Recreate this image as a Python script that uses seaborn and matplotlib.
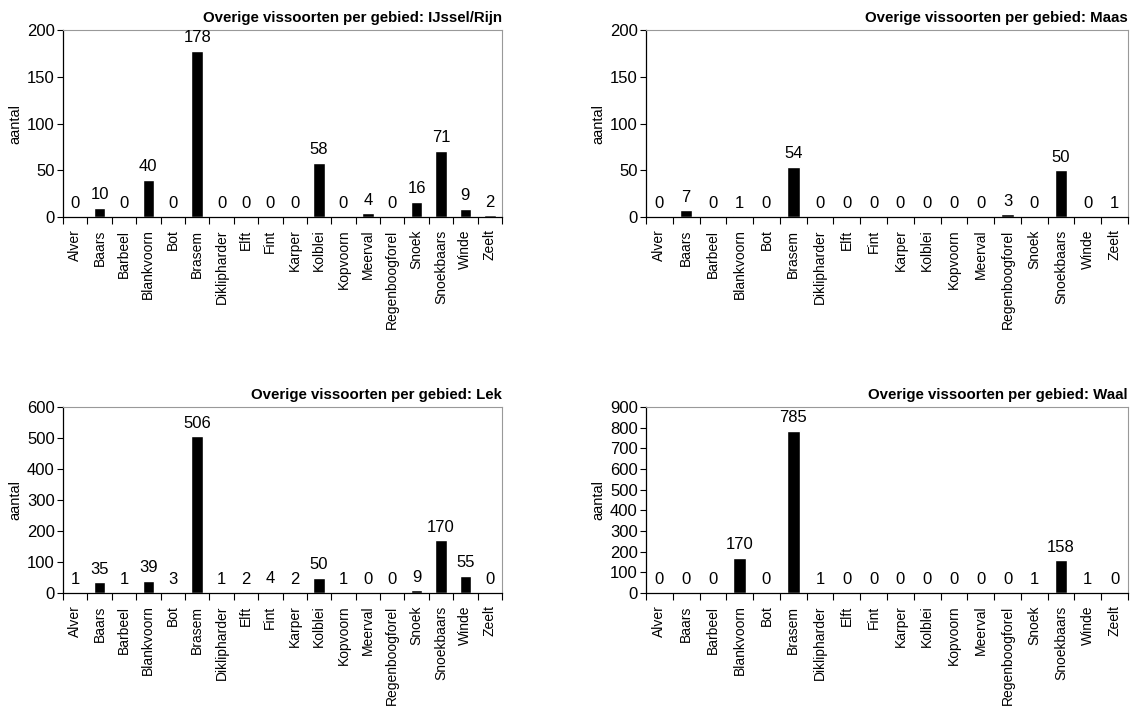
import numpy as np
import pandas as pd
import matplotlib.pyplot as plt
import seaborn as sns

# Overige vissoorten per gebied
soorten = ["Alver", "Baars", "Barbeel", "Blankvoorn", "Bot", "Brasem", "Diklipharder",
           "Elft", "Fint", "Karper", "Kolblei", "Kopvoorn", "Meerval", "Regenboogforel",
           "Snoek", "Snoekbaars", "Winde", "Zeelt"]
ijssel_rijn = [0, 10, 0, 40, 0, 178, 0, 0, 0, 0, 58, 0, 4, 0, 16, 71, 9, 2]
maas = [0, 7, 0, 1, 0, 54, 0, 0, 0, 0, 0, 0, 0, 3, 0, 50, 0, 1]
lek = [1, 35, 1, 39, 3, 506, 1, 2, 4, 2, 50, 1, 0, 0, 9, 170, 55, 0]
waal = [0, 0, 0, 170, 0, 785, 1, 0, 0, 0, 0, 0, 0, 0, 1, 158, 1, 0]

gebieden = ["IJssel/Rijn", "Maas", "Lek", "Waal"]
waarden = [ijssel_rijn, maas, lek, waal]
ymax = [200, 200, 600, 900]
ystap = [50, 50, 100, 100]

sns.set_style("ticks")
plt.rcParams["font.family"] = ["Liberation Sans", "DejaVu Sans"]
plt.rcParams["text.color"] = "black"
plt.rcParams["axes.labelcolor"] = "black"
plt.rcParams["xtick.color"] = "black"
plt.rcParams["ytick.color"] = "black"

fig = plt.figure(figsize=(11.35, 7.11), dpi=100)
# axes positions in figure fractions (left, bottom, width, height)
posities = [
    (63 / 1135, 1 - 217 / 711, 439 / 1135, 187 / 711),
    (646 / 1135, 1 - 217 / 711, 482 / 1135, 187 / 711),
    (63 / 1135, 1 - 593 / 711, 439 / 1135, 186 / 711),
    (646 / 1135, 1 - 593 / 711, 482 / 1135, 186 / 711),
]

for pos, gebied, vals, ym, stap in zip(posities, gebieden, waarden, ymax, ystap):
    ax = fig.add_axes(pos)
    df = pd.DataFrame({"soort": soorten, "aantal": vals})
    sns.barplot(data=df, x="soort", y="aantal", color="black", width=0.47,
                saturation=1, ax=ax)
    for i, v in enumerate(vals):
        ax.annotate(str(v), (i, v), xytext=(0, 4), textcoords="offset points",
                    ha="center", va="bottom", fontsize=12)
    ax.set_xlim(-0.5, len(soorten) - 0.5)
    ax.set_ylim(0, ym)
    ax.set_yticks(np.arange(0, ym + 1, stap))
    ax.set_xticks(np.arange(-0.5, len(soorten), 1), minor=True)
    ax.tick_params(axis="x", which="major", length=0, pad=9, labelsize=10,
                   labelrotation=90)
    ax.tick_params(axis="x", which="minor", length=5, color="black", width=0.8)
    ax.tick_params(axis="y", length=4, labelsize=12, width=0.8, pad=2)
    ax.set_xlabel("")
    ax.set_ylabel("aantal", fontsize=10.5, labelpad=3)
    for s in ["left", "bottom"]:
        ax.spines[s].set_color("black")
        ax.spines[s].set_linewidth(0.9)
    for s in ["top", "right"]:
        ax.spines[s].set_color("#999999")
        ax.spines[s].set_linewidth(0.8)
    ax.set_title("Overige vissoorten per gebied: " + gebied, loc="right",
                 fontsize=10.8, fontweight="bold", pad=6)

fig.savefig("out.png", dpi=100)
